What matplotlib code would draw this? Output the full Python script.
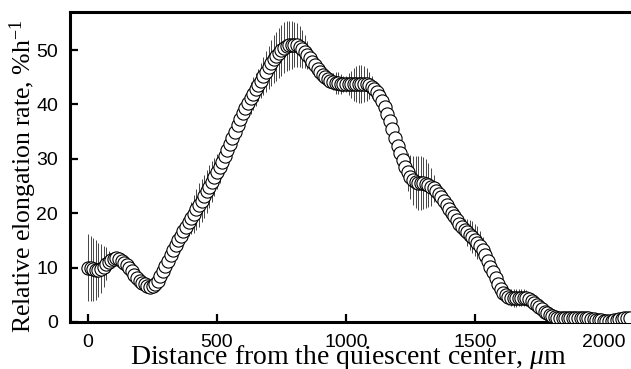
import numpy as np
import matplotlib.pyplot as plt

# distance from the quiescent center, um (10 um steps)
dist = np.arange(0, 2101, 10)

# relative elongation rate, %/h
rate = [
    10.0, 9.9, 9.7, 9.6, 9.6, 9.8, 10.2, 10.7, 11.1, 11.4,
    11.6, 11.7, 11.6, 11.3, 10.9, 10.4, 9.9, 9.3, 8.7, 8.1,
    7.6, 7.2, 6.9, 6.6, 6.5, 6.6, 7.0, 7.6, 8.4, 9.3,
    10.3, 11.3, 12.3, 13.3, 14.2, 15.1, 15.9, 16.7, 17.5, 18.3,
    19.1, 19.9, 20.7, 21.5, 22.3, 23.1, 24.0, 24.9, 25.8, 26.7,
    27.6, 28.5, 29.5, 30.5, 31.6, 32.7, 33.9, 35.0, 36.2, 37.3,
    38.4, 39.4, 40.3, 41.2, 42.0, 42.8, 43.6, 44.4, 45.2, 46.0,
    46.8, 47.6, 48.3, 48.9, 49.5, 50.0, 50.4, 50.7, 50.9, 51.0,
    51.0, 50.9, 50.6, 50.2, 49.7, 49.1, 48.5, 47.8, 47.2, 46.6,
    46.0, 45.5, 45.1, 44.7, 44.4, 44.2, 44.0, 43.9, 43.8, 43.7,
    43.7, 43.7, 43.7, 43.7, 43.7, 43.7, 43.8, 43.8, 43.7, 43.5,
    43.2, 42.8, 42.3, 41.6, 40.7, 39.6, 38.3, 36.9, 35.4, 33.9,
    32.4, 31.0, 29.7, 28.5, 27.5, 26.7, 26.1, 25.7, 25.5, 25.5,
    25.5, 25.4, 25.2, 24.9, 24.6, 24.1, 23.5, 22.9, 22.2, 21.5,
    20.8, 20.1, 19.4, 18.7, 18.1, 17.5, 17.0, 16.5, 16.0, 15.6,
    15.1, 14.6, 14.0, 13.2, 12.3, 11.3, 10.2, 9.1, 8.0, 7.0,
    6.1, 5.4, 4.9, 4.6, 4.5, 4.4, 4.4, 4.5, 4.5, 4.5,
    4.4, 4.2, 3.9, 3.5, 3.1, 2.7, 2.3, 1.9, 1.6, 1.3,
    1.1, 0.9, 0.8, 0.7, 0.7, 0.7, 0.7, 0.8, 0.8, 0.8,
    0.8, 0.8, 0.8, 0.7, 0.7, 0.6, 0.5, 0.4, 0.3, 0.3,
    0.2, 0.2, 0.2, 0.2, 0.3, 0.4, 0.5, 0.6, 0.7, 0.8,
    0.8,
]

# error (+/-), %/h
err = [
    6.2, 6.0, 5.8, 5.5, 5.0, 4.5, 3.8, 3.0, 2.0, 1.2,
    0.8, 0.8, 0.8, 0.8, 0.8, 0.8, 0.8, 0.8, 0.8, 0.8,
    0.8, 0.8, 0.8, 0.8, 0.8, 0.8, 0.8, 0.8, 0.8, 0.8,
    0.8, 0.8, 0.8, 0.8, 0.8, 0.8, 1.0, 1.5, 2.0, 2.5,
    3.0, 3.5, 3.8, 4.0, 4.0, 4.0, 4.0, 4.0, 3.8, 3.5,
    3.2, 3.0, 2.8, 2.5, 2.2, 2.0, 1.8, 1.5, 1.5, 1.5,
    1.5, 2.0, 2.5, 3.0, 3.0, 3.0, 3.0, 3.2, 3.5, 3.8,
    4.0, 4.2, 4.4, 4.5, 4.6, 4.7, 4.7, 4.6, 4.5, 4.4,
    4.2, 4.0, 3.8, 3.5, 3.0, 2.5, 2.0, 1.5, 1.0, 0.8,
    0.8, 0.8, 0.8, 0.8, 0.8, 1.5, 2.0, 2.0, 1.8, 1.5,
    1.5, 2.0, 2.5, 3.0, 3.3, 3.5, 3.5, 3.3, 3.0, 2.5,
    2.0, 1.5, 1.0, 0.8, 0.8, 0.8, 0.8, 0.8, 0.8, 0.8,
    0.8, 0.8, 1.5, 2.5, 3.5, 4.0, 4.5, 4.8, 5.0, 5.0,
    4.8, 4.5, 4.0, 3.5, 2.5, 1.5, 1.0, 0.8, 0.8, 0.8,
    0.8, 0.8, 0.8, 0.8, 1.0, 1.5, 2.0, 2.5, 2.8, 3.0,
    3.0, 3.0, 2.8, 2.5, 2.0, 1.5, 1.0, 0.8, 0.8, 0.8,
    1.0, 1.2, 1.4, 1.5, 1.6, 1.6, 1.6, 1.6, 1.5, 1.5,
    1.4, 1.3, 1.2, 1.0, 0.8, 0.8, 0.8, 0.8, 0.8, 0.8,
    0.8, 0.8, 0.8, 0.8, 0.8, 0.8, 0.8, 0.8, 0.8, 0.8,
    0.8, 0.8, 0.8, 0.8, 0.8, 0.8, 0.8, 0.8, 0.8, 0.8,
    0.8, 0.8, 0.8, 0.8, 0.8, 0.8, 0.8, 0.8, 0.8, 0.8,
    0.8,
]

xticks = [0, 500, 1000, 1500, 2000]
yticks = [0, 10, 20, 30, 40, 50]

plt.rcParams['mathtext.fontset'] = 'custom'
plt.rcParams['mathtext.rm'] = 'Liberation Serif'
plt.rcParams['mathtext.it'] = 'Liberation Serif:italic'

fig = plt.figure(figsize=(6.31, 3.69), dpi=100)
ax = fig.add_axes([0.1109, 0.1274, 0.889, 0.8401])

ax.errorbar(dist, rate, yerr=err, fmt='none', ecolor='#444444',
            elinewidth=0.7, capsize=0, zorder=2)
ax.plot(dist, rate, 'o', ms=9.5, mfc='white', mec='black', mew=0.8,
        ls='none', zorder=3)

ax.set_xlim(-70, 2105)
ax.set_ylim(0, 57)
ax.set_xticks(xticks)
ax.set_yticks(yticks)

for s in ['left', 'bottom', 'top']:
    ax.spines[s].set_linewidth(2.2)
ax.spines['right'].set_visible(False)

ax.tick_params(direction='in', length=6, width=1.6, pad=8.5,
               labelsize=14, top=False, right=False)
for lab in ax.get_xticklabels() + ax.get_yticklabels():
    lab.set_fontfamily('Liberation Sans')

fig.text(0.551, 0.014, r'Distance from the quiescent center, $\mathit{\mu}$m',
         fontfamily='Liberation Serif', fontsize=20,
         ha='center', va='baseline')
fig.text(0.037, 0.523, r'Relative elongation rate, %h$^{-1}$',
         fontfamily='Liberation Serif', fontsize=18.5, rotation=90,
         ha='center', va='center')

fig.savefig('out.png', dpi=100)
